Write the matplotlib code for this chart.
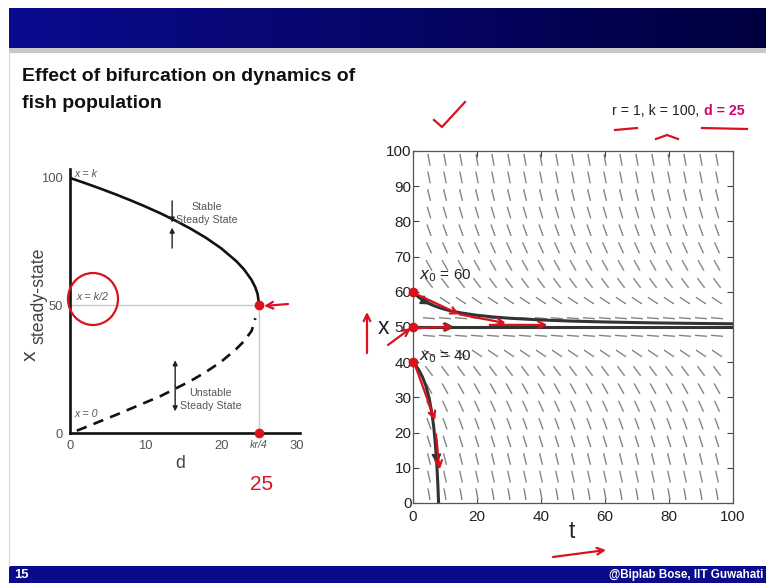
import numpy as np
import matplotlib
matplotlib.use('Agg')
import matplotlib.pyplot as plt
from matplotlib import font_manager
from matplotlib.collections import LineCollection
from matplotlib.colors import LinearSegmentedColormap
from matplotlib.patches import Rectangle, Ellipse

W, H = 766, 583

# --- bifurcation diagram: steady states vs harvesting rate d (r = 1, k = 100)
d_stable = [0, 2, 4, 6, 8, 10, 12, 14, 16, 18, 20, 22, 23, 24, 24.5, 24.8, 25]
x_stable = [100, 97.96, 95.83, 93.59, 91.23, 88.73, 86.06, 83.17, 80.0,
            76.46, 72.36, 67.32, 64.14, 60.0, 57.07, 54.47, 50.0]
d_unstable = [0.9, 2, 4, 6, 8, 10, 12, 14, 16, 18, 20, 22, 23, 24, 24.5]
x_unstable = [0.9, 2.2, 4.6, 7.0, 9.5, 12.0, 14.5, 17.5, 20.5, 24.0, 28.0,
              33.0, 36.0, 40.0, 45.0]
d_crit, x_crit = 25, 50
bif_xticks = [0, 10, 20, 25, 30]
bif_xticklabels = ['0', '10', '20', 'kr/4', '30']
bif_yticks = [0, 50, 100]

# --- time courses for d = 25
t_60 = [0, 1, 2, 3, 4, 5, 6, 8, 10, 12, 15, 20, 25, 30, 40, 50, 60, 70, 80, 90, 100]
x_60 = [60, 59.09, 58.33, 57.69, 57.14, 56.67, 56.25, 55.56, 55.0, 54.55, 54.0,
        53.33, 52.86, 52.5, 52.0, 51.67, 51.43, 51.25, 51.11, 51.0, 50.91]
t_50 = [0, 100]
x_50 = [50, 50]
t_40 = [0, 1, 2, 3, 4, 5, 6, 6.5, 7, 7.5, 7.8, 8]
x_40 = [40, 38.89, 37.5, 35.71, 33.33, 30.0, 25.0, 21.43, 16.67, 10.0, 4.55, 0]

# slope field: grid columns/rows and dx/dt along each row
field_t = [5, 10, 15, 20, 25, 30, 35, 40, 45, 50, 55, 60, 65, 70, 75, 80, 85, 90, 95]
field_x = [2.5, 7.5, 12.5, 17.5, 22.5, 27.5, 32.5, 37.5, 42.5, 47.5,
           52.5, 57.5, 62.5, 67.5, 72.5, 77.5, 82.5, 87.5, 92.5, 97.5]
field_slope = [-5.2, -4.3, -3.6, -3.0, -2.5, -2.0, -1.6, -1.2, -0.6, -0.08,
               -0.08, -0.6, -1.2, -1.6, -2.0, -2.5, -3.0, -3.6, -4.3, -5.2]
dfield_ticks_t = [0, 20, 40, 60, 80, 100]
dfield_ticks_x = [0, 10, 20, 30, 40, 50, 60, 70, 80, 90, 100]

names = {f.name for f in font_manager.fontManager.ttflist}
if 'Liberation Sans Narrow' in names:
    NARROW, SC = 'Liberation Sans Narrow', 1.0
else:
    NARROW, SC = 'Liberation Sans', 0.85
SANS = 'Liberation Sans'
RED = '#d8121e'

fig = plt.figure(figsize=(W / 100, H / 100), dpi=100)


def box(x0, y0, x1, y1):
    return [x0 / W, 1 - y1 / H, (x1 - x0) / W, (y1 - y0) / H]


# slide background, banners
bg = fig.add_axes([0, 0, 1, 1])
bg.axis('off')
banner = LinearSegmentedColormap.from_list('banner', ['#0b0b90', '#000040'])
bg.imshow(np.linspace(0, 1, 256)[None, :], extent=(9, W, 48, 8),
          cmap=banner, aspect='auto')
bg.add_patch(Rectangle((9, 48), W - 9, 5, color='#c8c8c8', lw=0))
bg.add_patch(Rectangle((9, 566), W - 9, 17, color='#0a0a8c', lw=0))
bg.plot([9, 9], [53, 566], color='#d8d8d8', lw=0.8)
bg.set_xlim(0, W)
bg.set_ylim(H, 0)

title = dict(va='baseline', ha='left', fontsize=16.5 * SC, fontweight='bold',
             family=NARROW, color='#111111')
bg.text(22, 81, 'Effect of bifurcation on dynamics of', **title)
bg.text(22, 108, 'fish population', **title)
bg.text(14, 575, '15', color='white', fontsize=11 * SC, fontweight='bold',
        family=NARROW, va='center')
bg.text(763, 575, '@Biplab Bose, IIT Guwahati', color='white', ha='right',
        fontsize=9.8 * SC, fontweight='bold', family=NARROW, va='center')
bg.text(703, 111, 'r = 1, k = 100, ', ha='right', va='center',
        fontsize=12 * SC, family=NARROW, color='#222222')
bg.text(704, 111, 'd = 25', ha='left', va='center', fontsize=12 * SC,
        family=NARROW, fontweight='bold', color='#d4006f')

# --- left: bifurcation diagram
ax1 = fig.add_axes(box(70, 169, 300, 433))
ax1.set_xlim(0, 30.4)
ax1.set_ylim(0, 103.5)
for s in ('top', 'right'):
    ax1.spines[s].set_visible(False)
for s in ('left', 'bottom'):
    ax1.spines[s].set_linewidth(1.9)
    ax1.spines[s].set_color('#111111')
ax1.set_xticks(bif_xticks)
ax1.set_xticklabels(bif_xticklabels)
ax1.set_yticks(bif_yticks)
ax1.tick_params(length=0, labelsize=11 * SC, labelcolor='#555555', pad=5)
for lab in ax1.get_xticklabels() + ax1.get_yticklabels():
    lab.set_family(NARROW)
kr = ax1.get_xticklabels()[3]
kr.set_style('italic')
kr.set_fontsize(9 * SC)

ax1.plot([0, d_crit], [x_crit, x_crit], color='#c8c8c8', lw=1)
ax1.plot([d_crit, d_crit], [0, x_crit], color='#c8c8c8', lw=1)
ax1.plot(d_stable, x_stable, color='#111111', lw=1.9, solid_capstyle='butt')
ax1.plot(d_unstable, x_unstable, color='#111111', lw=1.9,
         linestyle=(0, (4, 2.8)))
ax1.plot([d_crit, d_crit], [x_crit, 0], 'o', color=RED, ms=6, clip_on=False,
         zorder=5)

ann = dict(family=NARROW, color='#555555', fontsize=9 * SC)
ax1.text(0.6, 101.5, 'x = k', style='italic', va='center', **ann)
ax1.text(0.8, 53.5, 'x = k/2', style='italic', va='center', **ann)
ax1.text(0.6, 7.5, 'x = 0', style='italic', va='center', **ann)
ax1.text(18.05, 86.0, 'Stable\nSteady State', ha='center', va='center',
         linespacing=1.45, **ann)
ax1.text(18.6, 13.1, 'Unstable\nSteady State', ha='center', va='center',
         linespacing=1.45, **ann)
arr = dict(arrowstyle='-|>', color='#222222', lw=1, mutation_scale=7,
           shrinkA=0, shrinkB=0)
ax1.annotate('', xy=(13.5, 82.5), xytext=(13.5, 91), arrowprops=arr)
ax1.annotate('', xy=(13.5, 80.5), xytext=(13.5, 72.5), arrowprops=arr)
ax1.annotate('', xy=(13.9, 28.5), xytext=(13.9, 18.5), arrowprops=arr)
ax1.annotate('', xy=(13.9, 8.5), xytext=(13.9, 18.5), arrowprops=arr)

fig.text(180 / W, 1 - 463 / H, 'd', ha='center', va='center',
         fontsize=15 * SC, family=NARROW, color='#444444')
fig.text(30 / W, 1 - 356 / H, 'x', ha='center', va='center', rotation=90,
         fontsize=18 * SC, family=NARROW, color='#444444')
fig.text(39 / W, 1 - 296 / H, 'steady-state', ha='center', va='center',
         rotation=90, fontsize=15 * SC, family=NARROW, color='#444444')

# --- right: direction field and trajectories
ax2 = fig.add_axes(box(413, 151, 733, 503))
ax2.set_xlim(0, 100)
ax2.set_ylim(0, 100)
ax2.set_xticks(dfield_ticks_t)
ax2.set_yticks(dfield_ticks_x)
ax2.tick_params(direction='in', length=4, width=0.8, top=True, right=True,
                labelsize=11, labelcolor='#222222', color='#444444')
ax2.tick_params(axis='y', pad=1)
ax2.tick_params(axis='x', pad=5)
for lab in ax2.get_xticklabels() + ax2.get_yticklabels():
    lab.set_family(SANS)
for s in ax2.spines.values():
    s.set_linewidth(0.9)
    s.set_color('#555555')

px_t = 320 / 100   # pixels per time unit
px_x = 352 / 100   # pixels per x unit
half = 6.0         # half dash length in pixels
segs = []
for xr, sl in zip(field_x, field_slope):
    vx, vy = 1.0, sl * px_x / px_t
    n = np.hypot(vx, vy)
    dt, dx = half * vx / n / px_t, half * vy / n / px_x
    for tc in field_t:
        segs.append([(tc - dt, xr - dx), (tc + dt, xr + dx)])
ax2.add_collection(LineCollection(segs, colors='#858585', linewidths=1.0))

traj = dict(color='#333333', lw=2.2, solid_capstyle='butt')
ax2.plot(t_60, x_60, **traj)
ax2.plot(t_50, x_50, **traj)
ax2.plot(t_40, x_40, **traj)
head = dict(arrowstyle='-|>', color='#333333', lw=1, mutation_scale=15,
            shrinkA=0, shrinkB=0)
ax2.annotate('', xy=(5.5, 56.4), xytext=(3.5, 57.4), arrowprops=head)
ax2.annotate('', xy=(13, 50), xytext=(10, 50), arrowprops=head)
ax2.annotate('', xy=(7.5, 11), xytext=(7.2, 15.5), arrowprops=head)

ax2.text(2.0, 64.5, '$x_0$ = 60', fontsize=11, family=SANS, color='#222222',
         va='center')
ax2.text(2.0, 41.5, '$x_0$ = 40', fontsize=11, family=SANS, color='#222222',
         va='center')
fig.text(383 / W, 1 - 327 / H, 'x', ha='center', va='center', fontsize=16.5,
         family=SANS, color='#222222')
fig.text(572 / W, 1 - 532 / H, 't', ha='center', va='center', fontsize=16.5,
         family=SANS, color='#222222')

# red pen marks on the time course
ax2.plot([0, 0, 0], [60, 50, 40], 'o', color=RED, ms=6, clip_on=False,
         zorder=6)
pen = dict(arrowstyle='->', color=RED, lw=1.6, mutation_scale=12,
           shrinkA=0, shrinkB=0)
for (t0, y0), (t1, y1) in [((0, 59.8), (14.5, 53.6)),
                           ((14.5, 53.6), (29, 51.1)),
                           ((24, 50.6), (42, 50.6)),
                           ((0, 49.6), (12.5, 50.1)),
                           ((0.5, 39.5), (6.9, 23.5)),
                           ((7.2, 19.5), (8.3, 9.5))]:
    ax2.annotate('', xy=(t1, y1), xytext=(t0, y0), arrowprops=pen,
                 annotation_clip=False)

# red pen marks on the slide
ov = fig.add_axes([0, 0, 1, 1])
ov.axis('off')
ov.set_xlim(0, W)
ov.set_ylim(H, 0)
ov.patch.set_alpha(0)
ov.plot([434, 442, 465], [120, 127, 102], color=RED, lw=1.6)
ov.plot([615, 637], [130, 128], color=RED, lw=1.6)
ov.plot([656, 667, 678], [139, 135, 139], color=RED, lw=1.6)
ov.plot([702, 747], [128, 129], color=RED, lw=1.6)
ov.add_patch(Ellipse((93, 299), 50, 52, fill=False, ec=RED, lw=1.6))
ov.annotate('', xy=(264, 306), xytext=(288, 304), arrowprops=pen)
ov.annotate('', xy=(367, 312), xytext=(367, 353), arrowprops=pen)
ov.annotate('', xy=(411, 328), xytext=(388, 345), arrowprops=pen)
ov.annotate('', xy=(606, 550), xytext=(553, 557), arrowprops=pen)
ov.text(262, 485, '25', color=RED, fontsize=15, family=SANS, ha='center',
        va='center')

fig.savefig('out.png', dpi=100)
